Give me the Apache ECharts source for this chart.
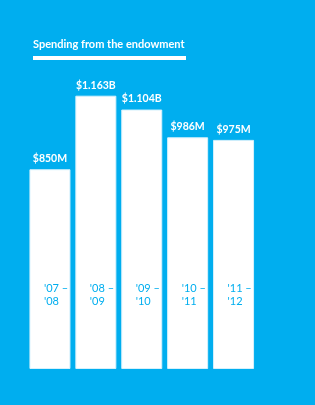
<!DOCTYPE html>
<html><head><meta charset="utf-8">
<script src="https://cdn.jsdelivr.net/npm/echarts@6/dist/echarts.min.js"></script>
<style>html,body{margin:0;padding:0;background:#00AEEF;}#c{width:315px;height:405px;}</style>
</head><body><div id="c"></div>
<script>
const categories = ["'07 –\n'08", "'08 –\n'09", "'09 –\n'10", "'10 –\n'11", "'11 –\n'12"];
const values = [850, 1163, 1104, 986, 975];
const valueLabels = ["$850M", "$1.163B", "$1.104B", "$986M", "$975M"];
const title = "Spending from the endowment";
const FONT = "Lato";
const chart = echarts.init(document.getElementById('c'));
chart.setOption({
  backgroundColor: '#00AEEF',
  animation: false,
  graphic: [
    {type: 'text', left: 33, top: 39, style: {text: title, fill: '#fff', font: 'bold 11px ' + FONT}},
    {type: 'rect', shape: {x: 33, y: 56, width: 153, height: 4}, style: {fill: '#fff'}}
  ],
  grid: {left: 27, right: 58.5, top: 87, bottom: 36},
  xAxis: {
    type: 'category', data: categories, z: 10,
    axisLine: {show: false}, axisTick: {show: false},
    axisLabel: {inside: true, margin: 61, align: 'left', padding: [0, 0, 0, -6], color: '#00AEEF', fontFamily: FONT, fontSize: 11, lineHeight: 13, verticalAlign: 'bottom'}
  },
  yAxis: {type: 'value', min: 0, max: 1200, show: false, splitLine: {show: false}},
  series: [{
    type: 'bar', data: values, barWidth: 41,
    itemStyle: {color: '#fff', borderColor: '#d6f1fc', borderWidth: 1},
    label: {show: true, position: 'top', distance: 5, color: '#fff', fontFamily: FONT, fontWeight: 'bold', fontSize: 10.5,
      formatter: p => valueLabels[p.dataIndex]}
  }]
});
</script></body></html>
